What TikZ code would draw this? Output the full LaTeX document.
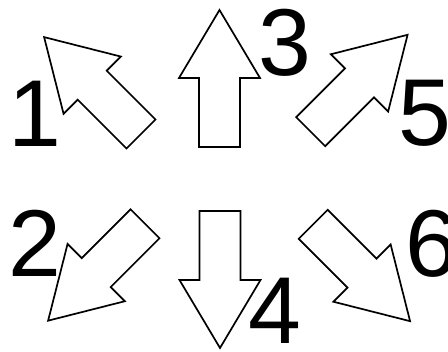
\documentclass[tikz,border=0pt]{standalone}
\usepackage{fontspec}
\setmainfont{Liberation Sans}
\usepackage{tikz}

\begin{document}
\begin{tikzpicture}[x=1pt, y=1pt,
    digit/.style={inner sep=0pt, anchor=base, font=\fontsize{95}{95}\selectfont},
    blockarrow/.pic={
        \draw[line width=1.7pt, fill=white] (-20.5,0) -- (20.5,0) -- (20.5,69) -- (40.5,69)
            -- (0,137) -- (-40.5,69) -- (-20.5,69) -- cycle;
    }]
    \useasboundingbox (0,0) rectangle (448,352);

    % arrows, placed by the middle of their tail
    \pic[rotate=45]   at (141,218)   {blockarrow};
    \pic              at (219.5,205) {blockarrow};
    \pic[rotate=-45]  at (310.7,220.3) {blockarrow};
    \pic[rotate=135]  at (145,128.2) {blockarrow};
    \pic[rotate=180]  at (220,141)   {blockarrow};
    \pic[rotate=-135] at (313.2,127.7) {blockarrow};

    % numbers
    \node[digit] (n1) at (35,205)  {1};
    \node[digit] (n2) at (35,75)   {2};
    \node[digit] (n3) at (285,276) {3};
    \node[digit] (n4) at (275,8)   {4};
    \node[digit] (n5) at (425,206) {5};
    \node[digit] (n6) at (432,75)  {6};
\end{tikzpicture}
\end{document}
